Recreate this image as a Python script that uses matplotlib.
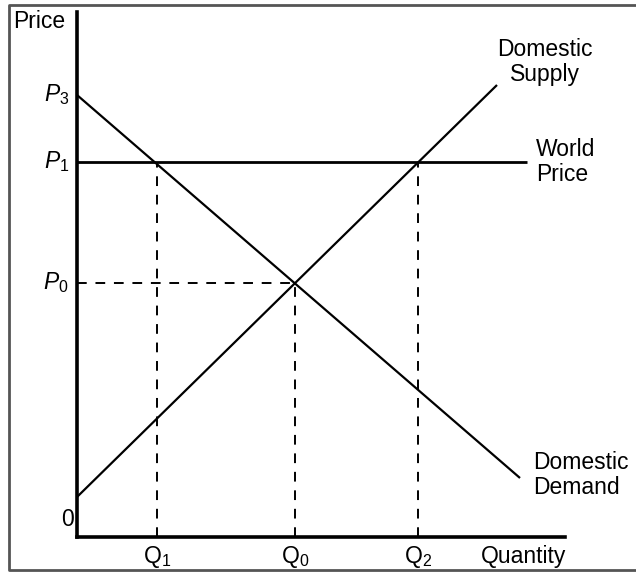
import matplotlib
matplotlib.use("Agg")
import matplotlib.pyplot as plt
from matplotlib.lines import Line2D

plt.rcParams['font.family'] = ['Liberation Sans', 'DejaVu Sans']
plt.rcParams['mathtext.fontset'] = 'custom'
plt.rcParams['mathtext.rm'] = 'Liberation Sans'
plt.rcParams['mathtext.it'] = 'Liberation Sans:italic'

# prices and quantities (arbitrary units)
P3 = 8.84      # demand intercept
P1 = 7.5       # world price
P0 = 5.08      # domestic equilibrium price
Q1 = 1.6       # quantity demanded at world price
Qc = 4.36      # domestic equilibrium quantity
Q2 = 6.82      # quantity supplied at world price

demand_q = [0, 8.86]
demand_p = [P3, 1.18]
supply_q = [0, 8.4]
supply_p = [0.8, 9.04]
world_q = [0, 9.0]
world_p = [P1, P1]

W, H = 636, 573
fig = plt.figure(figsize=(W / 100, H / 100), dpi=100)
ax = fig.add_axes([77 / W, 36 / H, 488 / W, 525 / H])
ax.set_xlim(0, 9.76)
ax.set_ylim(0, 10.5)

for s in ['top', 'right']:
    ax.spines[s].set_visible(False)
for s in ['left', 'bottom']:
    ax.spines[s].set_linewidth(2.6)
    ax.spines[s].set_color('black')
ax.set_xticks([])
ax.set_yticks([])

lw = 1.6
ax.plot(demand_q, demand_p, color='black', lw=lw, solid_capstyle='butt')
ax.plot(supply_q, supply_p, color='black', lw=lw, solid_capstyle='butt')
ax.plot(world_q, world_p, color='black', lw=2.0, solid_capstyle='butt')

dash = dict(color='black', lw=1.4, dashes=(5, 4.5))
ax.plot([Q1, Q1], [0, P1], **dash)
ax.plot([Q2, Q2], [0, P1], **dash)
ax.plot([Qc, Qc], [0, P0], **dash)
ax.plot([0, Qc], [P0, P0], **dash)

fs = 16.5
tr = ax.get_yaxis_transform()
for p, lab in [(P3, '$P_3$'), (P1, '$P_1$'), (P0, '$P_0$')]:
    ax.text(-8 / 488, p, lab, transform=tr, ha='right', va='center', fontsize=fs)

trx = ax.get_xaxis_transform()
for q, lab in [(Q1, '$\\mathrm{Q}_1$'), (Qc, '$\\mathrm{Q}_0$'), (Q2, '$\\mathrm{Q}_2$')]:
    ax.text(q, -20 / 525, lab, transform=trx, ha='center', va='center', fontsize=fs)

fig.text(67 / W, 1 - 519 / H, '0', ha='center', va='center', fontsize=fs)
fig.text(13 / W, 1 - 22 / H, 'Price', ha='left', va='center', fontsize=fs)
fig.text(566 / W, 1 - 556 / H, 'Quantity', ha='right', va='center', fontsize=fs)

fig.text(545 / W, 1 - 62 / H, 'Domestic\nSupply', ha='center', va='center',
         fontsize=fs, linespacing=1.1)
fig.text(536 / W, 1 - 162 / H, 'World\nPrice', ha='left', va='center',
         fontsize=fs, linespacing=1.1)
fig.text(533 / W, 1 - 475 / H, 'Domestic\nDemand', ha='left', va='center',
         fontsize=fs, linespacing=1.1)

# gray frame (left, top, bottom edges)
fx = 9 / W
fig.add_artist(Line2D([1, fx, fx, 1], [1 - 5 / H, 1 - 5 / H, 3 / H, 3 / H],
                      transform=fig.transFigure, color='#555555', lw=2.0))

fig.savefig('out.png', dpi=100)
